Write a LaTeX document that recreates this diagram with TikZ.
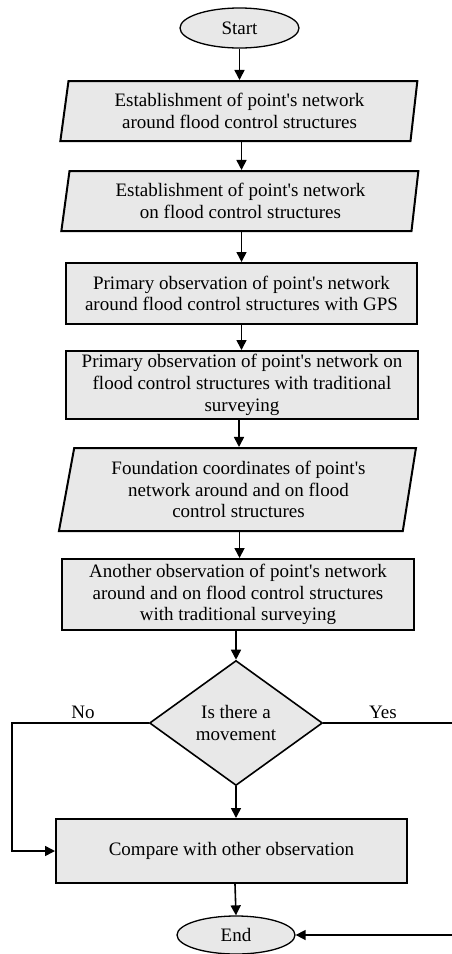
\documentclass[tikz,border=0pt]{standalone}
\usepackage{fontspec}
\setmainfont{Liberation Serif}
\usetikzlibrary{shapes.geometric,arrows.meta}
\definecolor{boxfill}{RGB}{232,232,232}
\newcommand{\ap}{\textquotesingle}
\begin{document}
\begin{tikzpicture}[x=1pt,y=-1pt,
  base/.style={draw=black,line width=2pt,fill=boxfill,align=center,inner sep=0pt,
    font=\fontsize{19}{21.7}\selectfont},
  term/.style={base,ellipse,line width=1.3pt},
  iobox/.style={base,trapezium,trapezium left angle=77,trapezium right angle=101,
    trapezium stretches body=true},
  procbox/.style={base,rectangle},
  decbox/.style={base,diamond,line width=1.6pt},
  lbl/.style={inner sep=0pt,font=\fontsize{19}{21.7}\selectfont},
  arr/.style={line width=1.6pt,-{Triangle[length=10pt,width=10pt]}},
  ln/.style={line width=1.6pt}]
\useasboundingbox (0,0) rectangle (452,954);
\node[term,minimum width=119,minimum height=40] (start) at (239.5,28) {Start};
\node[iobox,minimum width=357,minimum height=60] (p1) at (239.5,111) {Establishment of point\ap s network\\around flood control structures};
\node[iobox,minimum width=357,minimum height=60] (p2) at (240.5,201) {Establishment of point\ap s network\\on flood control structures};
\node[procbox,minimum width=351,minimum height=61] (r1) at (241.5,293.5) {Primary observation of point\ap s network\\around flood control structures with GPS};
\node[procbox,minimum width=352,minimum height=68] (r2) at (242,385) {Primary observation of point\ap s network on\\flood control structures with traditional\\surveying};
\node[iobox,trapezium left angle=75,trapezium right angle=103,minimum width=357,minimum height=83] (p3) at (238.5,489.5) {Foundation coordinates of point\ap s\\network around and on flood\\control structures};
\node[procbox,minimum width=352,minimum height=71] (r3) at (238,594.5) {Another observation of point\ap s network\\around and on flood control structures\\with traditional surveying};
\node[decbox,minimum width=173,minimum height=125,aspect=1.384] (dec) at (236,723) {Is there a\\movement};
\node[procbox,minimum width=351,minimum height=64] (r4) at (231.5,851) {Compare with other observation};
\node[term,minimum width=118,minimum height=38] (stop) at (236,935) {End};
\node[lbl] (no) at (83,712) {No};
\node[lbl] (yes) at (383,712) {Yes};
\coordinate (nl) at (12,0);
\coordinate (yr) at (458,0);
\draw[arr] (start.south) -- (start.south |- p1.north);
\draw[arr] ([xshift=2pt]p1.south) -- ([xshift=2pt]p1.south |- p2.north);
\draw[arr] ([xshift=1pt]p2.south) -- ([xshift=1pt]p2.south |- r1.north);
\draw[arr] (r1.south) -- (r1.south |- r2.north);
\draw[arr] ([xshift=-3pt]r2.south) -- ([xshift=-3pt]r2.south |- p3.north);
\draw[arr] ([xshift=1pt]p3.south) -- ([xshift=1pt]p3.south |- r3.north);
\draw[arr] ([xshift=-2pt]r3.south) -- (dec.north);
\draw[arr] (dec.south) -- (dec.south |- r4.north);
\draw[arr] ([xshift=3.5pt]r4.south) -- (stop.north);
\draw[arr] (dec.west) -- (dec.west -| nl) |- (r4.west);
\draw[arr] (dec.east) -- (dec.east -| yr) |- (stop.east);
\end{tikzpicture}
\end{document}
